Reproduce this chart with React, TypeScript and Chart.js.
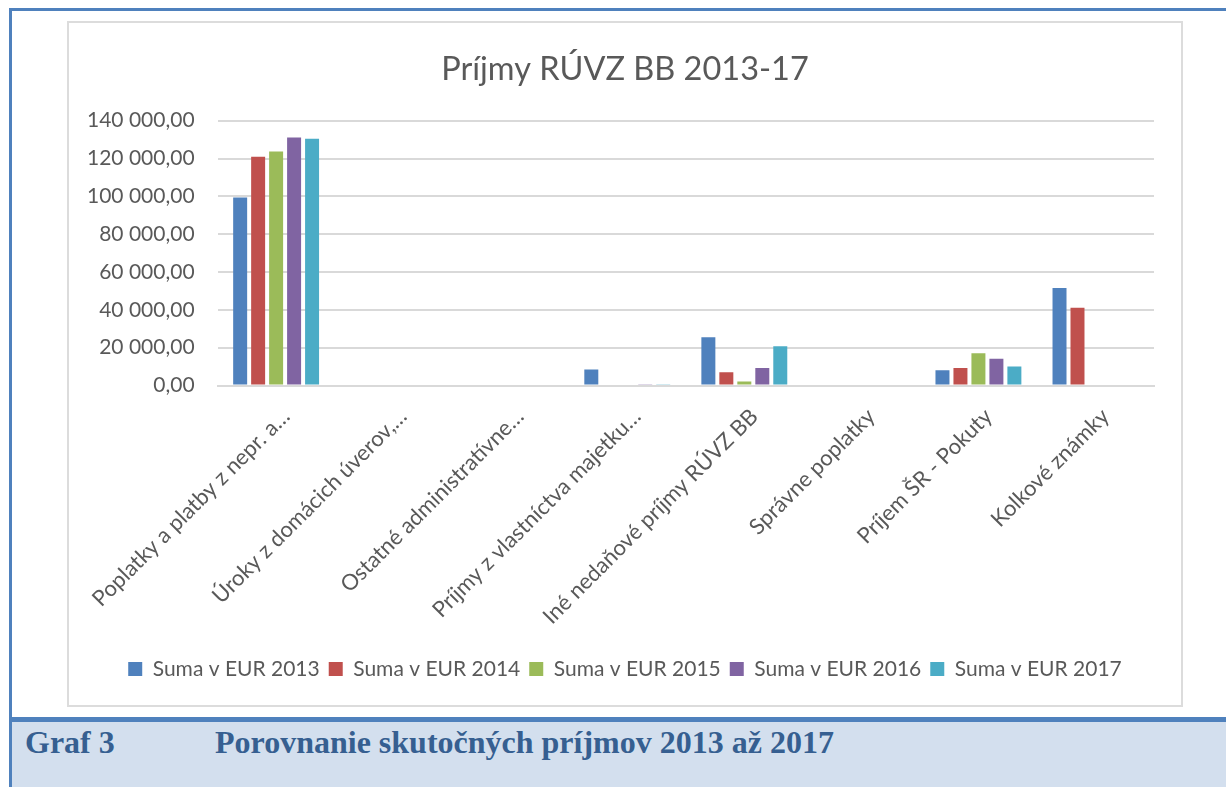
import React, { useEffect, useRef } from "react";
import { Chart, registerables } from "chart.js";

Chart.register(...registerables);

const categories = [
  "Poplatky a platby z nepr. a…",
  "Úroky z domácich úverov,…",
  "Ostatné administratívne…",
  "Príjmy z vlastníctva majetku…",
  "Iné nedaňové príjmy RÚVZ BB",
  "Správne poplatky",
  "Príjem ŠR - Pokuty",
  "Kolkové známky",
];

const seriesNames = [
  "Suma v EUR 2013",
  "Suma v EUR 2014",
  "Suma v EUR 2015",
  "Suma v EUR 2016",
  "Suma v EUR 2017",
];

const values2013 = [99400, 0, 0, 8400, 25500, 0, 8100, 51500];
const values2014 = [121000, 0, 0, 0, 7000, 0, 9300, 41100];
const values2015 = [123700, 0, 0, 500, 2100, 0, 17100, 0];
const values2016 = [131100, 0, 0, 600, 9300, 0, 14100, 0];
const values2017 = [130500, 0, 0, 400, 20700, 0, 10000, 0];

const seriesColors = ["#4F81BD", "#C0504D", "#9BBB59", "#8064A2", "#4BACC6"];

const yMin = 0;
const yMax = 140000;
const yStep = 20000;

const chartTitle = "Príjmy RÚVZ BB 2013-17";
const captionLabel = "Graf 3";
const captionText = "Porovnanie skutočných príjmov 2013 až 2017";

const FONT = "Lato";
const TEXT_COLOR = "#595959";

function formatTick(v: number): string {
  const s = Math.round(v)
    .toString()
    .replace(/\B(?=(\d{3})+(?!\d))/g, " ");
  return s + ",00";
}

export default function App() {
  const canvasRef = useRef<HTMLCanvasElement | null>(null);

  useEffect(() => {
    const canvas = canvasRef.current;
    if (!canvas) return;
    const allValues = [values2013, values2014, values2015, values2016, values2017];
    const chart = new Chart(canvas, {
      type: "bar",
      data: {
        labels: categories,
        datasets: allValues.map((vals, i) => ({
          label: seriesNames[i],
          data: vals,
          backgroundColor: seriesColors[i],
          borderWidth: 0,
          categoryPercentage: 0.768,
          barPercentage: 0.778,
        })),
      },
      options: {
        responsive: false,
        animation: false,
        devicePixelRatio: 1,
        layout: { padding: { top: 0, left: 0, right: 0, bottom: 17.5 } },
        plugins: {
          title: {
            display: true,
            text: chartTitle,
            color: TEXT_COLOR,
            font: { family: FONT, size: 32.5, weight: "normal" },
            padding: { top: 29, bottom: 31.7 },
          },
          legend: {
            position: "bottom",
            labels: {
              boxWidth: 14,
              boxHeight: 14,
              padding: 9,
              color: TEXT_COLOR,
              font: { family: FONT, size: 21 },
            },
          },
          tooltip: { enabled: false },
        },
        scales: {
          x: {
            grid: { display: false },
            border: { display: true, color: "#D9D9D9", width: 2 },
            ticks: {
              autoSkip: false,
              minRotation: 45,
              maxRotation: 45,
              labelOffset: 10,
              padding: 10,
              color: TEXT_COLOR,
              font: { family: FONT, size: 22 },
            },
            afterFit: (scale: any) => {
              scale.height = 264;
            },
          },
          y: {
            min: yMin,
            max: yMax,
            border: { display: false },
            grid: { color: "#D9D9D9", lineWidth: 2, drawTicks: false },
            ticks: {
              stepSize: yStep,
              padding: 23,
              color: TEXT_COLOR,
              font: { family: FONT, size: 21 },
              callback: (v: any) => formatTick(Number(v)),
            },
            afterFit: (scale: any) => {
              scale.width = 149;
            },
          },
          yRight: {
            position: "right",
            display: true,
            grid: { display: false, drawTicks: false },
            border: { display: false },
            ticks: { display: false },
            afterFit: (scale: any) => {
              scale.width = 29;
            },
          },
        },
      },
    } as any);
    return () => chart.destroy();
  }, []);

  const blue = "#4F81BD";

  return (
    <div
      style={{
        position: "absolute",
        left: 0,
        top: 0,
        width: 1226,
        height: 787,
        overflow: "hidden",
        background: "#FFFFFF",
      }}
    >
      <div style={{ position: "absolute", left: 9, top: 8, width: 1217, height: 3, background: blue }} />
      <div style={{ position: "absolute", left: 9, top: 8, width: 3, height: 779, background: blue }} />
      <div
        style={{
          position: "absolute",
          left: 67,
          top: 21,
          width: 1116,
          height: 686,
          boxSizing: "border-box",
          border: "2px solid #DCDCDC",
        }}
      />
      <canvas
        ref={canvasRef}
        width={1116}
        height={686}
        style={{ position: "absolute", left: 67, top: 21, width: 1116, height: 686 }}
      />
      <div style={{ position: "absolute", left: 9, top: 717, width: 1217, height: 5, background: blue }} />
      <div style={{ position: "absolute", left: 12, top: 722, width: 1214, height: 65, background: "#D3DFEE" }} />
      <div
        style={{
          position: "absolute",
          left: 25,
          top: 726,
          fontFamily: "'Liberation Serif', 'Times New Roman', serif",
          fontWeight: "bold",
          fontSize: 32,
          lineHeight: "32px",
          color: "#365F91",
          whiteSpace: "nowrap",
        }}
      >
        {captionLabel}
      </div>
      <div
        style={{
          position: "absolute",
          left: 215,
          top: 726,
          fontFamily: "'Liberation Serif', 'Times New Roman', serif",
          fontWeight: "bold",
          fontSize: 32,
          lineHeight: "32px",
          color: "#365F91",
          whiteSpace: "nowrap",
        }}
      >
        {captionText}
      </div>
    </div>
  );
}
